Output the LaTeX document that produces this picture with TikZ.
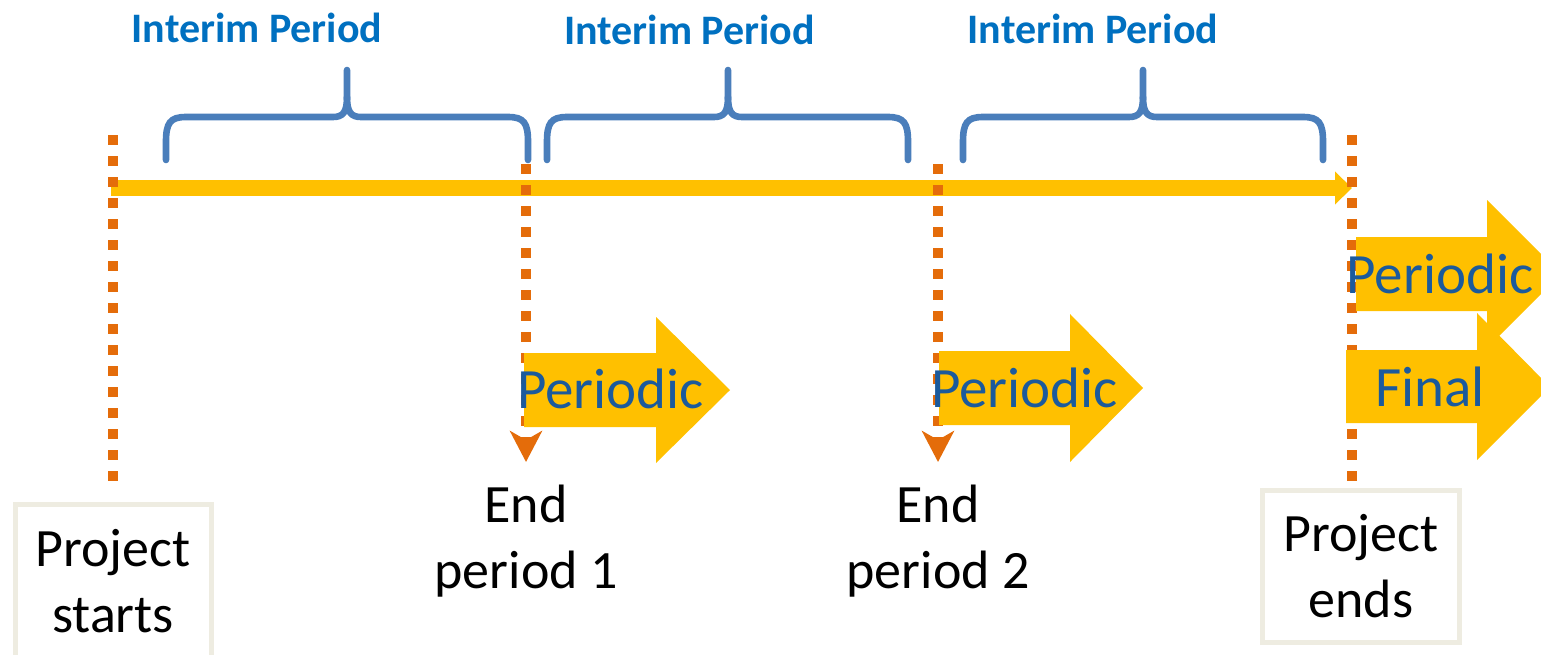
\documentclass[tikz,border=0pt]{standalone}
\usepackage{fontspec}
\setmainfont{Carlito}
\usetikzlibrary{arrows.meta}
\definecolor{tlyellow}{HTML}{FFC000}
\definecolor{dotorange}{HTML}{E46C0A}
\definecolor{braceblue}{HTML}{4A7EBB}
\definecolor{interimblue}{HTML}{0070C0}
\definecolor{periodicblue}{HTML}{1B5A9C}
\definecolor{boxframe}{HTML}{EEECE1}
\begin{document}
\begin{tikzpicture}[x=0.5pt,y=-0.5pt,
  timeline/.style={draw=tlyellow, line width=8.3pt, -{Triangle[width=16pt,length=8.5pt]}},
  milestone/.style={draw=dotorange, line width=5pt, dash pattern=on 5pt off 5.5pt},
  milestonearrow/.style={milestone, -{Stealth[width=16pt,length=15.5pt,inset=4.5pt]}},
  bracestyle/.style={draw=braceblue, line width=3.3pt, line cap=round},
  blockarrow/.style={fill=tlyellow},
  interimtext/.style={text=interimblue, font=\fontsize{21}{25}\selectfont\bfseries, inner sep=0pt, anchor=base},
  periodictext/.style={text=periodicblue, font=\fontsize{28.5}{34}\selectfont, inner sep=0pt, anchor=base},
  blacktext/.style={text=black, font=\fontsize{27}{33}\selectfont, align=center, inner sep=0pt},
  framebox/.style={blacktext, draw=boxframe, line width=2.5pt}
]
\useasboundingbox (0,0) rectangle (1541,654);
\clip (0,0) rectangle (1541,654);

% coordinates
\coordinate (tstart) at (111,188);
\coordinate (tend) at (1352,188);
\coordinate (m0top) at (113,135);
\coordinate (m0bot) at (113,483);
\coordinate (m1top) at (526,164);
\coordinate (m1bot) at (526,462);
\coordinate (m2top) at (938,164);
\coordinate (m2bot) at (938,462);
\coordinate (m3top) at (1352,135);
\coordinate (m3bot) at (1352,483);

% timeline
\draw[timeline] (tstart) -- (tend);

% braces
\foreach \L/\M/\R in {166/347/528, 547/728/908, 963/1143/1323} {
  \draw[bracestyle] (\L,160) -- (\L,142) .. controls (\L,123) and (\L+4,117) .. (\L+20,117)
     -- (\M-14,117) .. controls (\M-4,117) and (\M,112) .. (\M,97) -- (\M,70);
  \draw[bracestyle] (\M,97) .. controls (\M,112) and (\M+4,117) .. (\M+14,117)
     -- (\R-20,117) .. controls (\R-4,117) and (\R,123) .. (\R,142) -- (\R,160);
}

% milestone lines
\draw[milestone] (m0top) -- (m0bot);
\draw[milestonearrow] (m1top) -- (m1bot);
\draw[milestonearrow] (m2top) -- (m2bot);
\draw[milestone] (m3top) -- (m3bot);

% block arrows
\fill[blockarrow] (524,353) -- (656,353) -- (656,317) -- (730,390) -- (656,463) -- (656,427) -- (524,427) -- cycle;
\fill[blockarrow] (939,351) -- (1070,351) -- (1070,314) -- (1143,388) -- (1070,462) -- (1070,425) -- (939,425) -- cycle;
\fill[blockarrow] (1356,237) -- (1487,237) -- (1487,200) -- (1561,274) -- (1487,348) -- (1487,311) -- (1356,311) -- cycle;
\fill[blockarrow] (1346,350) -- (1477,350) -- (1477,313) -- (1550,387) -- (1477,460) -- (1477,423) -- (1346,423) -- cycle;

% texts
\node[interimtext] (int1) at (257,42) {Interim Period};
\node[interimtext] (int2) at (689.5,44) {Interim Period};
\node[interimtext] (int3) at (1093,43) {Interim Period};

\node[periodictext] (per1) at (610.5,408) {Periodic};
\node[periodictext] (per2) at (1024.5,407) {Periodic};
\node[periodictext] (per3) at (1440,293) {Periodic};
\node[periodictext] (fin) at (1430,406) {Final};

\node[blacktext] (end1) at (526,541) {End\\period 1};
\node[blacktext] (end2) at (938,541) {End\\period 2};

\node[framebox, minimum width=98pt, minimum height=76.5pt] (pstart) at (113,581) {Project\\starts};
\node[framebox, minimum width=98.5pt, minimum height=76pt] (pend) at (1361,566.5) {Project\\ends};
\end{tikzpicture}
\end{document}
